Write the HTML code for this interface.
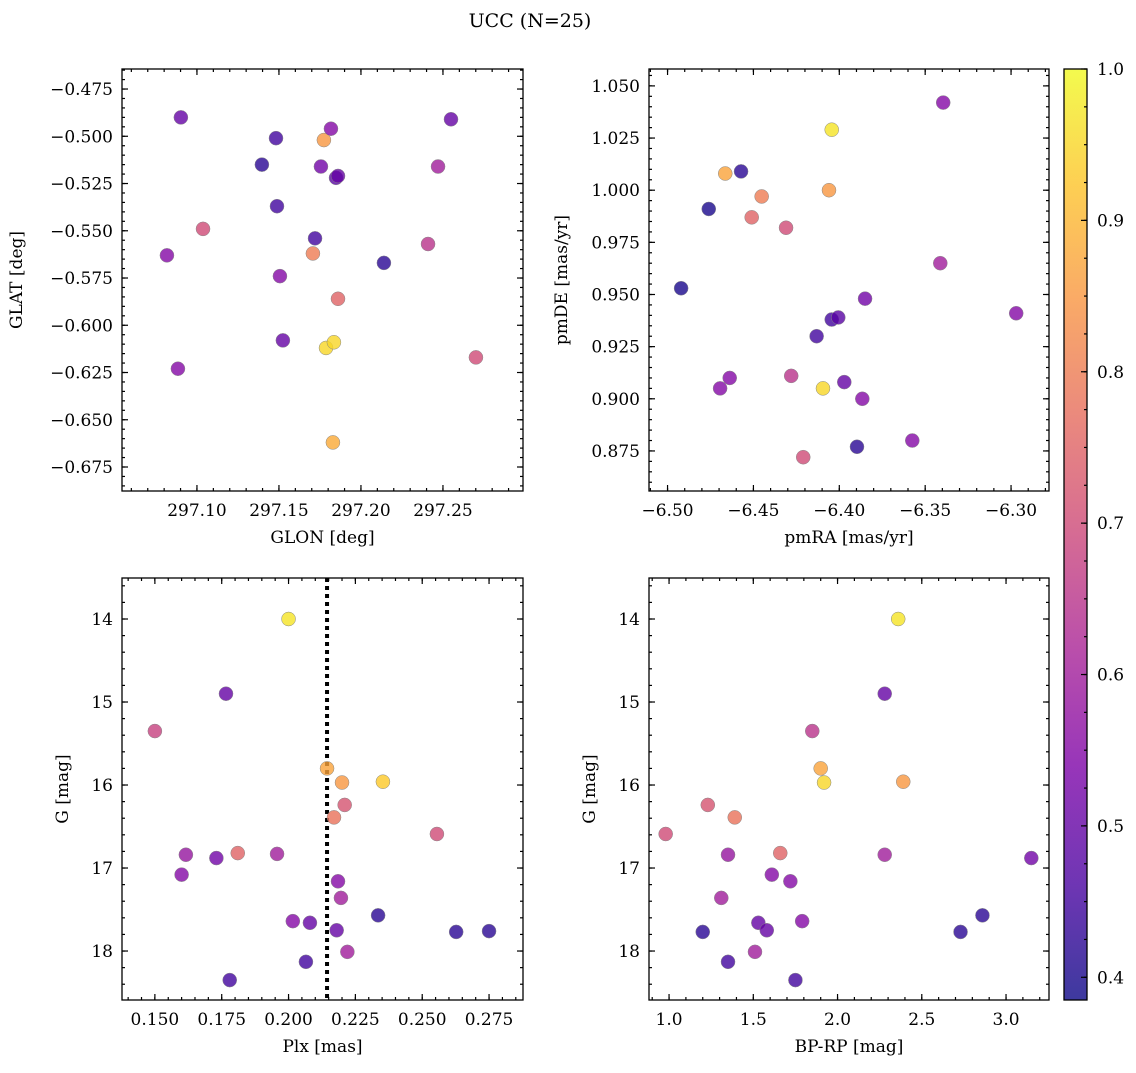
<!DOCTYPE html>
<html><head><meta charset="utf-8"><style>
body{margin:0;background:#fff}
svg text{font-family:"DejaVu Serif","Liberation Serif",serif;fill:#000}
</style></head><body>
<svg id="fig" width="1136" height="1068" viewBox="0 0 1136 1068" xmlns="http://www.w3.org/2000/svg">
<text x="530" y="27" font-size="19" text-anchor="middle">UCC (N=25)</text>
<defs><linearGradient id="cb" x1="0" y1="1" x2="0" y2="0"></linearGradient></defs>
</svg>
<script>
// ---- data ----
const probTL=[0.5,0.45,0.85,0.55,0.5,0.42,0.52,0.48,0.5,0.6,0.45,0.7,0.45,0.8,0.65,0.55,0.42,0.55,0.75,0.5,0.95,0.95,0.55,0.7,0.88];
const glon=[297.0902,297.1482,297.1774,297.1817,297.2549,297.1396,297.1756,297.1848,297.1860,297.2470,297.1488,297.1037,297.1720,297.1707,297.2409,297.0817,297.2140,297.1506,297.1860,297.1524,297.1787,297.1835,297.0884,297.2701,297.1829];
const glat=[-0.490,-0.501,-0.502,-0.496,-0.491,-0.515,-0.516,-0.522,-0.521,-0.516,-0.537,-0.549,-0.554,-0.562,-0.557,-0.563,-0.567,-0.574,-0.586,-0.608,-0.612,-0.609,-0.623,-0.617,-0.662];
const probTR=[0.55,0.97,0.87,0.42,0.4,0.8,0.85,0.75,0.7,0.4,0.6,0.52,0.45,0.48,0.45,0.55,0.55,0.55,0.65,0.95,0.5,0.55,0.55,0.42,0.7];
const pmra=[-6.3395,-6.4044,-6.4664,-6.4572,-6.476,-6.4452,-6.406,-6.451,-6.431,-6.4921,-6.3412,-6.385,-6.4044,-6.4006,-6.4132,-6.297,-6.4694,-6.4638,-6.428,-6.4095,-6.3971,-6.3866,-6.3575,-6.3897,-6.421];
const pmde=[1.042,1.029,1.008,1.009,0.991,0.997,1.000,0.987,0.982,0.953,0.965,0.948,0.938,0.939,0.930,0.941,0.905,0.910,0.911,0.905,0.908,0.900,0.880,0.877,0.872];
const probBL=[0.97,0.5,0.68,0.87,0.85,0.93,0.72,0.78,0.7,0.58,0.52,0.75,0.6,0.55,0.55,0.6,0.42,0.55,0.5,0.5,0.6,0.45,0.42,0.42,0.45];
const plx=[0.200,0.1766,0.150,0.2144,0.220,0.2353,0.221,0.217,0.2555,0.1616,0.173,0.181,0.1957,0.160,0.2185,0.2196,0.2335,0.2016,0.208,0.218,0.222,0.2065,0.2627,0.275,0.178];
const gBL=[14.0,14.9,15.35,15.8,15.97,15.96,16.24,16.39,16.59,16.84,16.88,16.82,16.83,17.08,17.16,17.36,17.57,17.64,17.66,17.75,18.01,18.13,17.77,17.76,18.35];
const plxLine=[0.2144];
const probBR=[0.97,0.5,0.65,0.87,0.95,0.85,0.72,0.78,0.7,0.58,0.75,0.6,0.52,0.55,0.55,0.6,0.42,0.55,0.5,0.5,0.42,0.42,0.6,0.45,0.45];
const bprp=[2.36,2.28,1.85,1.90,1.92,2.39,1.23,1.39,0.98,1.35,1.66,2.28,3.15,1.61,1.72,1.31,2.86,1.79,1.53,1.58,1.20,2.73,1.51,1.35,1.75];
const gBR=[14.0,14.9,15.35,15.8,15.97,15.96,16.24,16.39,16.59,16.84,16.82,16.84,16.88,17.08,17.16,17.36,17.57,17.64,17.66,17.75,17.77,17.77,18.01,18.13,18.35];
const cbTicks=[0.4,0.5,0.6,0.7,0.8,0.9,1.0];

const NS='http://www.w3.org/2000/svg';
const svg=document.getElementById('fig');
function mk(t,a,p){const e=document.createElementNS(NS,t);for(const k in a)e.setAttribute(k,a[k]);(p||svg).appendChild(e);return e;}
const plasma=[[13,8,135],[75,3,161],[125,3,168],[168,34,150],[203,70,121],[229,107,93],[248,148,65],[253,195,40],[240,249,33]];
function cmap(t){t=Math.max(0,Math.min(1,t));const s=t*8,i=Math.min(7,Math.floor(s)),f=s-i;const a=plasma[i],b=plasma[i+1];return 'rgb('+a.map((v,k)=>Math.round(v+(b[k]-v)*f)).join(',')+')';}
const vmin=0.385,vmax=1.0;
function col(v){return cmap((v-vmin)/(vmax-vmin));}
const fmtMinus=s=>s.replace('-','\u2212');

function panel(o){
  const g=mk('g',{});
  
  
  const X=v=>o.x0+(v-o.xmin)/(o.xmax-o.xmin)*(o.x1-o.x0);
  const Y=v=>o.inv? o.y0+(v-o.ymin)/(o.ymax-o.ymin)*(o.y1-o.y0) : o.y1-(v-o.ymin)/(o.ymax-o.ymin)*(o.y1-o.y0);
  const tg=mk('g',{stroke:'#000','stroke-width':1.2},g);
  function ticks(min,max,step,len,axis,label,fmt){
    const s=Math.ceil(min/step-1e-6);
    for(let k=s;k*step<=max+1e-9;k++){const v=k*step;
      if(axis==='x'){const px=X(v);if(px<o.x0-0.5||px>o.x1+0.5)continue;mk('line',{x1:px,x2:px,y1:o.y1,y2:o.y1-len},tg);mk('line',{x1:px,x2:px,y1:o.y0,y2:o.y0+len},tg);
        if(label&&px>o.x0+2&&px<o.x1-2){const t=mk('text',{x:px,y:o.y1+25,'font-size':17,'text-anchor':'middle',stroke:'none'},g);t.textContent=fmtMinus(fmt(v));}}
      else{const py=Y(v);if(py<o.y0-0.5||py>o.y1+0.5)continue;mk('line',{y1:py,y2:py,x1:o.x0,x2:o.x0+len},tg);mk('line',{y1:py,y2:py,x1:o.x1,x2:o.x1-len},tg);
        if(label&&py>o.y0+2&&py<o.y1-2){const t=mk('text',{x:o.x0-9,y:py+6,'font-size':17,'text-anchor':'end',stroke:'none'},g);t.textContent=fmtMinus(fmt(v));}}
    }}
  ticks(o.xmin,o.xmax,o.xminor,3,'x',false);
  ticks(o.xmin,o.xmax,o.xmajor,6,'x',true,o.xfmt);
  const ylo=Math.min(o.ymin,o.ymax),yhi=Math.max(o.ymin,o.ymax);
  ticks(ylo,yhi,o.yminor,3,'y',false);
  ticks(ylo,yhi,o.ymajor,6,'y',true,o.yfmt);
  if(o.vline){const px=X(o.vline[0]);const l=mk('line',{x1:px,x2:px,y1:o.y0,y2:o.y1,stroke:'#000','stroke-width':4,'stroke-dasharray':'4,4'},g);}
  for(let i=0;i<o.xs.length;i++){
    const c=mk('circle',{cx:X(o.xs[i]),cy:Y(o.ys[i]),r:7,fill:col(o.cs[i]),stroke:'#888','stroke-width':0.5,'fill-opacity':0.8},g);
    
    
  }
  const fr=mk('rect',{x:o.x0,y:o.y0,width:o.x1-o.x0,height:o.y1-o.y0,fill:'none',stroke:'#000','stroke-width':1.3},g);
  
  const xl=mk('text',{x:(o.x0+o.x1)/2,y:o.y1+52,'font-size':17,'text-anchor':'middle'},g);xl.textContent=o.xlabel;
  
  const yc=(o.y0+o.y1)/2;const yl=mk('text',{x:o.ylx,y:yc,'font-size':17,'text-anchor':'middle',transform:'rotate(-90 '+o.ylx+' '+yc+')'},g);yl.textContent=o.ylabel;
  
}
const f2=v=>v.toFixed(2),f3=v=>v.toFixed(3),f0=v=>v.toFixed(0),f1=v=>v.toFixed(1);
panel({name:'glon-glat-panel',x0:122,x1:523,y0:69,y1:491,xmin:297.0543,xmax:297.2988,ymin:-0.6877,ymax:-0.4644,xmajor:0.05,xminor:0.01,ymajor:0.025,yminor:0.005,xfmt:f2,yfmt:f3,xs:glon,ys:glat,cs:probTL,xlabel:'GLON [deg]',ylabel:'GLAT [deg]',ylx:22});
panel({name:'pm-panel',x0:649,x1:1049,y0:69,y1:491,xmin:-6.5108,xmax:-6.2779,ymin:0.8558,ymax:1.0581,xmajor:0.05,xminor:0.01,ymajor:0.025,yminor:0.005,xfmt:f2,yfmt:f3,xs:pmra,ys:pmde,cs:probTR,xlabel:'pmRA [mas/yr]',ylabel:'pmDE [mas/yr]',ylx:567});
panel({name:'plx-g-panel',x0:122,x1:523,y0:578,y1:1000,xmin:0.1377,xmax:0.2877,ymin:13.506,ymax:18.59,inv:true,xmajor:0.025,xminor:0.005,ymajor:1,yminor:0.2,xfmt:f3,yfmt:f0,xs:plx,ys:gBL,cs:probBL,vline:plxLine,xlabel:'Plx [mas]',ylabel:'G [mag]',ylx:68});
panel({name:'cmd-panel',x0:649,x1:1049,y0:578,y1:1000,xmin:0.881,xmax:3.255,ymin:13.506,ymax:18.59,inv:true,xmajor:0.5,xminor:0.1,ymajor:1,yminor:0.2,xfmt:f1,yfmt:f0,xs:bprp,ys:gBR,cs:probBR,xlabel:'BP-RP [mag]',ylabel:'G [mag]',ylx:595});
// colorbar
const grad=document.getElementById('cb');
for(let i=0;i<=8;i++)mk('stop',{offset:i/8,'stop-color':cmap(i/8),'stop-opacity':0.8},grad);
const cbx=1064,cbw=23,cby0=69,cby1=1000;
const CY=v=>cby1-(v-vmin)/(vmax-vmin)*(cby1-cby0);
const cbg=mk('g',{});


mk('rect',{x:cbx,y:cby0,width:cbw,height:cby1-cby0,fill:'url(#cb)',stroke:'#000','stroke-width':1.3},cbg);
for(let v=0.4;v<=1.0001;v+=0.025){const py=CY(v);mk('line',{x1:cbx+cbw,x2:cbx+cbw-3,y1:py,y2:py,stroke:'#000','stroke-width':1.2},cbg);}
cbTicks.forEach(v=>{const py=CY(v);mk('line',{x1:cbx+cbw,x2:cbx+cbw-6,y1:py,y2:py,stroke:'#000','stroke-width':1.2},cbg);
  const t=mk('text',{x:cbx+cbw+10,y:py+6,'font-size':17},cbg);t.textContent=v.toFixed(1);
  });
</script>
</body></html>
